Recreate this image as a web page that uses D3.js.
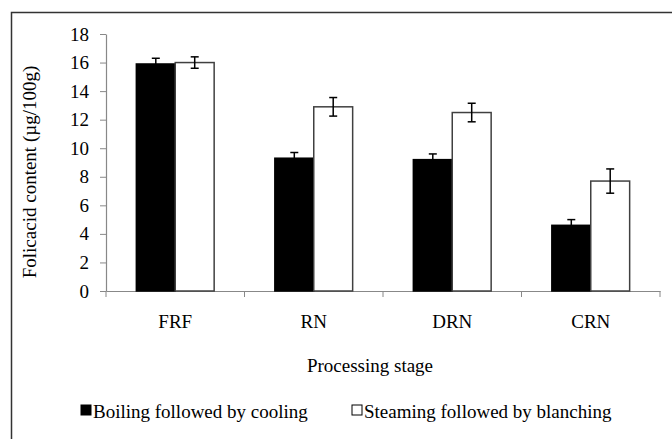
<!DOCTYPE html>
<html>
<head>
<meta charset="utf-8">
<script src="https://cdn.jsdelivr.net/npm/d3@7"></script>
<style>
  body { margin: 0; background: #fff; }
  text { font-family: "Liberation Serif", "Times New Roman", serif; fill: #000; }
</style>
</head>
<body>
<svg id="chart" width="672" height="439"></svg>
<script>
// data
const stages = ["FRF", "RN", "DRN", "CRN"];
const seriesNames = ["Boiling followed by cooling", "Steaming followed by blanching"];
const boilingValues = [15.9, 9.3, 9.2, 4.6];
const boilingErrors = [0.4, 0.4, 0.4, 0.4];
const steamingValues = [16.0, 12.9, 12.5, 7.7];
const steamingErrors = [0.4, 0.65, 0.65, 0.85];
const yTicks = [0, 2, 4, 6, 8, 10, 12, 14, 16, 18];

const svg = d3.select("#chart");

// outer frame (runs off the right/bottom edge like the original crop)
svg.append("rect")
    .attr("x", 11.5).attr("y", 12.5)
    .attr("width", 700).attr("height", 460)
    .attr("fill", "none")
    .attr("stroke", "#333")
    .attr("stroke-width", 1.5);

const margin = { left: 106, top: 34, right: 660, bottom: 291 };

const x = d3.scaleBand()
    .domain(stages)
    .range([margin.left, margin.right]);

const x1 = d3.scaleBand()
    .domain([0, 1])
    .range([0, x.bandwidth()])
    .paddingOuter(0.78)
    .paddingInner(0);

const y = d3.scaleLinear()
    .domain([0, 18])
    .range([margin.bottom, margin.top]);

// y axis
const yAxis = svg.append("g")
    .attr("transform", `translate(${margin.left},0)`)
    .call(d3.axisLeft(y).tickValues(yTicks).tickSize(6).tickSizeOuter(0));
yAxis.select(".domain").attr("stroke", "#888").attr("stroke-width", 1.2);
yAxis.selectAll(".tick line").attr("stroke", "#888");
yAxis.selectAll(".tick text")
    .attr("x", -17)
    .style("font-size", "19px")
    .style("font-family", "Liberation Serif");

// x axis - ticks at category boundaries
const xAxis = svg.append("g")
    .attr("transform", `translate(0,${margin.bottom})`)
    .call(d3.axisBottom(x).tickSize(0).tickSizeOuter(0));
xAxis.select(".domain").attr("stroke", "#888").attr("stroke-width", 1.2);
xAxis.selectAll(".tick text")
    .attr("dy", 0)
    .attr("y", 37)
    .style("font-size", "19px")
    .style("font-family", "Liberation Serif");

const bounds = stages.map(s => x(s)).concat([margin.right]);
svg.append("g").selectAll("line")
    .data(bounds)
    .join("line")
    .attr("x1", d => d).attr("x2", d => d)
    .attr("y1", margin.bottom).attr("y2", margin.bottom + 6)
    .attr("stroke", "#888");

// bars
const series = [
    { values: boilingValues, errors: boilingErrors, fill: "#000", stroke: "#000" },
    { values: steamingValues, errors: steamingErrors, fill: "#fff", stroke: "#404040" }
];

series.forEach((s, si) => {
    const g = svg.append("g");
    g.selectAll("rect")
        .data(stages)
        .join("rect")
        .attr("x", d => x(d) + x1(si))
        .attr("y", (d, i) => y(s.values[i]))
        .attr("width", x1.bandwidth())
        .attr("height", (d, i) => margin.bottom - y(s.values[i]))
        .attr("fill", s.fill)
        .attr("stroke", s.stroke)
        .attr("stroke-width", 1.5);

    // error bars
    const eg = svg.append("g").attr("stroke", "#000").attr("stroke-width", 1.5);
    stages.forEach((d, i) => {
        const cx = x(d) + x1(si) + x1.bandwidth() / 2;
        const top = y(s.values[i] + s.errors[i]);
        const bot = y(s.values[i] - s.errors[i]);
        eg.append("line").attr("x1", cx).attr("x2", cx).attr("y1", top).attr("y2", bot);
        eg.append("line").attr("x1", cx - 4).attr("x2", cx + 4).attr("y1", top).attr("y2", top);
        eg.append("line").attr("x1", cx - 4).attr("x2", cx + 4).attr("y1", bot).attr("y2", bot);
    });
});

// axis titles
svg.append("text")
    .attr("x", 370).attr("y", 372)
    .attr("text-anchor", "middle")
    .style("font-size", "19px")
    .text("Processing stage");

svg.append("text")
    .attr("transform", "translate(36,172) rotate(-90)")
    .attr("text-anchor", "middle")
    .style("font-size", "19px")
    .text("Folicacid content (µg/100g)");

// legend
const legendX = [81, 352];
const legend = svg.append("g");
seriesNames.forEach((name, i) => {
    legend.append("rect")
        .attr("x", legendX[i]).attr("y", 405)
        .attr("width", 10).attr("height", 10)
        .attr("fill", series[i].fill)
        .attr("stroke", "#000")
        .attr("stroke-width", 1);
    legend.append("text")
        .attr("x", legendX[i] + 12).attr("y", 418)
        .style("font-size", "19px")
        .text(name);
});
</script>
</body>
</html>
